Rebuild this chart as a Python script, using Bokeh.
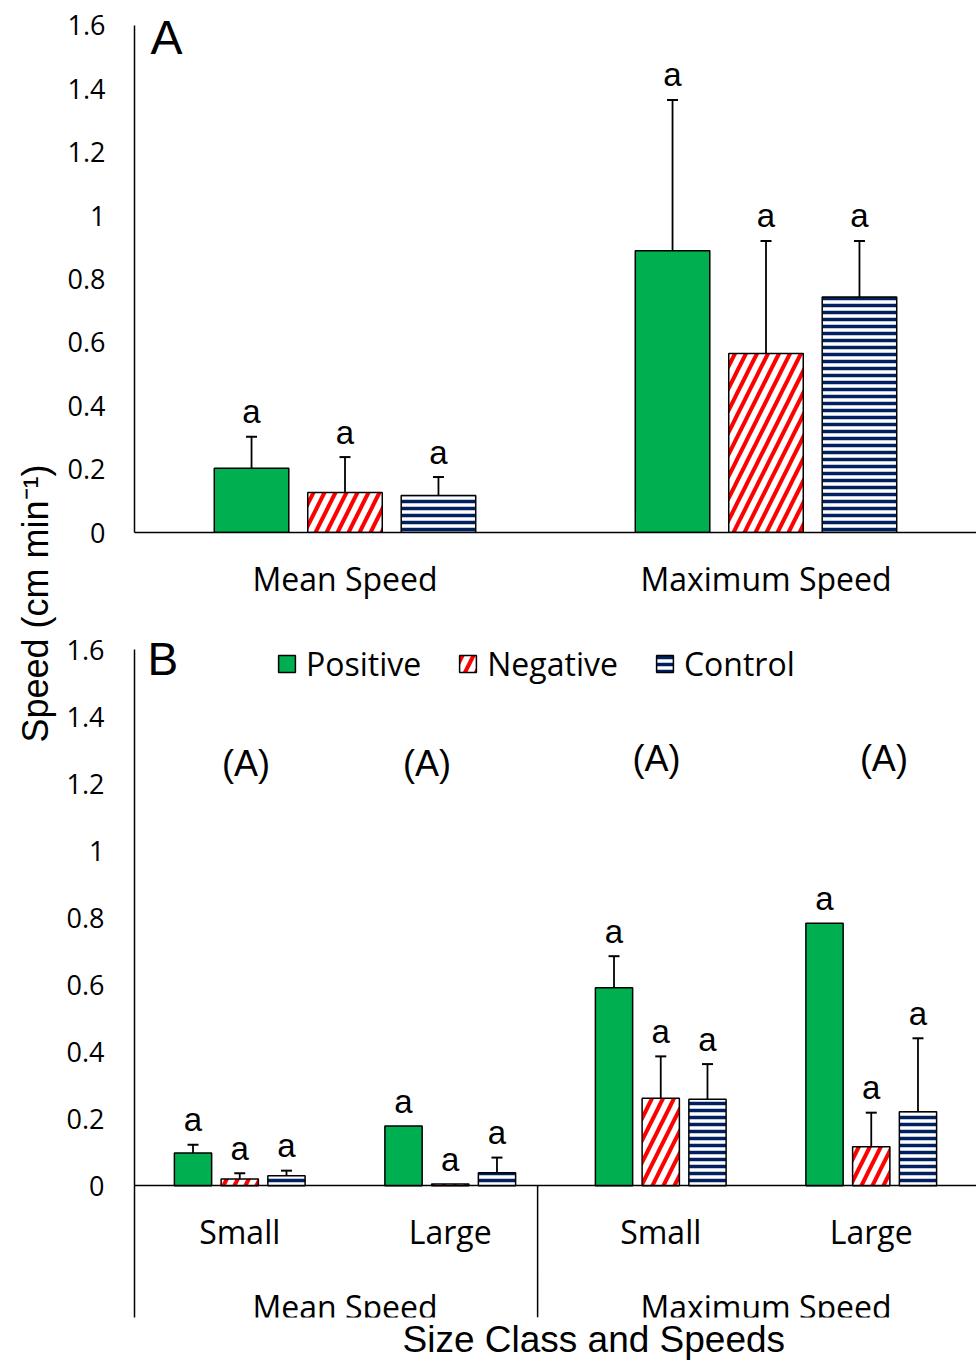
from bokeh.plotting import figure
from bokeh.models import (ColumnDataSource, FactorRange, Range1d, FixedTicker,
                          NumeralTickFormatter, Label, Title)
from bokeh.transform import dodge
from bokeh.layouts import row, column
from bokeh.embed import file_html
from bokeh.resources import INLINE
from bokeh.core.properties import value

# ---------------- data ----------------
series = ["Positive", "Negative", "Control"]

# Panel A
cats_A = ["Mean Speed", "Maximum Speed"]
pos_A = [0.203, 0.889]
neg_A = [0.126, 0.565]
ctl_A = [0.117, 0.743]
pos_A_err = [0.099, 0.476]
neg_A_err = [0.112, 0.355]
ctl_A_err = [0.058, 0.177]
sig_A = ["a", "a"]

# Panel B
groups_B = ["Mean Speed", "Maximum Speed"]
sizes_B = ["Small", "Large"]
pos_B = [0.098, 0.178, 0.591, 0.783]
neg_B = [0.020, 0.005, 0.261, 0.116]
ctl_B = [0.030, 0.039, 0.258, 0.221]
pos_B_err = [0.024, 0.0, 0.094, 0.0]
neg_B_err = [0.017, 0.0, 0.125, 0.102]
ctl_B_err = [0.015, 0.045, 0.105, 0.219]
sig_B = ["a", "a", "a", "a"]
group_sig_B = ["(A)", "(A)", "(A)", "(A)"]

y_ticks = [0, 0.2, 0.4, 0.6, 0.8, 1.0, 1.2, 1.4, 1.6]
y_title = "Speed (cm min\u207b\u00b9)"
x_title_B = "Size Class and Speeds"
panel_letters = ["A", "B"]

# ---------------- style / geometry ----------------
COLORS = {"Positive": "#00B050", "Negative": "#FF0000", "Control": "#002060"}
OFFSETS = {"Positive": -0.222, "Negative": 0.0, "Control": 0.222}
BAR_W = 0.177
CAL = "Open Sans"
ARIAL = "Liberation Sans"

LBL_W = 58
W = 918
FRAME_LEFT = 76
A_H, B_H = 623, 737
A_TOP, A_BOTTOM = 10, 91
A_PX_PER_UNIT = 316.9
A_FRAME_H = A_H - A_TOP - A_BOTTOM
A_YMAX = A_FRAME_H / A_PX_PER_UNIT
B_TOP, B_BOTTOM = 14, 42
B_PX_PER_UNIT = 335.6
B_YMAX = 1.636
B_FRAME_H = B_H - B_TOP - B_BOTTOM
B_Y0 = B_YMAX - B_FRAME_H / B_PX_PER_UNIT

# small nudges of the "(A)" marks (category units) and their heights
GSIG_DX = [0.03, -0.11, -0.02, 0.06]
GSIG_Y = [1.260, 1.260, 1.275, 1.275]
GROUP_LABEL_Y = -0.3605
SEP_OFFSET = 0.415


def style_axes(p, left_standoff):
    p.xgrid.visible = False
    p.ygrid.visible = False
    p.outline_line_color = None
    for ax in p.axis:
        ax.axis_line_color = "black"
        ax.axis_line_width = 1.5
        ax.major_tick_line_color = None
        ax.minor_tick_line_color = None
        ax.major_tick_out = 0
        ax.major_tick_in = 0
        ax.major_label_text_font = CAL
        ax.major_label_text_color = "black"
    p.yaxis.ticker = FixedTicker(ticks=y_ticks)
    p.yaxis.formatter = NumeralTickFormatter(format="0.[0]")
    p.yaxis.major_label_text_font_size = "27px"
    p.yaxis.major_label_standoff = left_standoff
    p.xaxis.major_label_text_font_size = "32px"


def draw_series(p, x, vals, errs, sigs, name, legend=False):
    top = [v + e for v, e in zip(vals, errs)]
    src = ColumnDataSource(dict(x=x, val=vals, top=top, sig=sigs))
    xd = dodge("x", OFFSETS[name], range=p.x_range)
    kw = dict(x=xd, top="val", width=BAR_W, source=src,
              line_color="black", line_width=1.5)
    if name == "Positive":
        kw.update(fill_color=COLORS[name])
    elif name == "Negative":
        kw.update(fill_color="white", hatch_pattern="/", hatch_color=COLORS[name],
                  hatch_scale=22, hatch_weight=4)
    else:
        kw.update(fill_color="white", hatch_pattern="-", hatch_color=COLORS[name],
                  hatch_scale=7, hatch_weight=3.5)
    if legend:
        kw["legend_label"] = name
    p.vbar(**kw)
    idx = [i for i, e in enumerate(errs) if e > 0]
    esrc = ColumnDataSource(dict(x=[x[i] for i in idx],
                                 val=[vals[i] for i in idx],
                                 top=[top[i] for i in idx]))
    exd = dodge("x", OFFSETS[name], range=p.x_range)
    p.segment(x0=exd, y0="val", x1=exd, y1="top", source=esrc,
              line_color="black", line_width=1.8)
    p.scatter(x=exd, y="top", marker="dash", size=11, line_color="black",
              line_width=2, source=esrc)
    p.text(x=xd, y="top", text="sig", source=src, text_font=value(ARIAL),
           text_font_size="33px", text_align="center", text_baseline="middle",
           y_offset=-25, text_color="black")


# ---------------- panel A ----------------
pA = figure(x_range=FactorRange(factors=cats_A, range_padding=0, factor_padding=0),
            y_range=Range1d(0, A_YMAX), width=W, height=A_H,
            output_backend="svg", toolbar_location=None,
            min_border_left=FRAME_LEFT, min_border_right=0,
            min_border_top=A_TOP, min_border_bottom=A_BOTTOM)
style_axes(pA, 29)
pA.yaxis.bounds = (0, 1.6)
pA.xaxis.major_label_standoff = 24
for name, vals, errs in zip(series, [pos_A, neg_A, ctl_A], [pos_A_err, neg_A_err, ctl_A_err]):
    draw_series(pA, cats_A, vals, errs, sig_A, name)
pA.add_layout(Label(x=16, y=A_FRAME_H - 26.5, x_units="screen", y_units="screen",
                    text=panel_letters[0], text_font=ARIAL, text_font_size="48px",
                    text_baseline="middle", text_color="black"))

# ---------------- panel B ----------------
factors_B = [(g, s) for g in groups_B for s in sizes_B]
pB = figure(x_range=FactorRange(factors=factors_B, range_padding=0, factor_padding=0,
                                group_padding=0, subgroup_padding=0),
            y_range=Range1d(B_Y0, B_YMAX), width=W, height=B_H,
            output_backend="svg", toolbar_location=None,
            min_border_left=FRAME_LEFT, min_border_right=0, min_border_top=B_TOP,
            min_border_bottom=B_BOTTOM)
style_axes(pB, 30)
pB.yaxis.bounds = (B_Y0, 1.6)
pB.xaxis.fixed_location = 0
pB.xaxis.major_label_standoff = 24
pB.xaxis.group_text_color = None
pB.xaxis.separator_line_color = None

for name, vals, errs in zip(series, [pos_B, neg_B, ctl_B], [pos_B_err, neg_B_err, ctl_B_err]):
    draw_series(pB, factors_B, vals, errs, sig_B, name, legend=True)

# group labels and separator below the axis
pB.text(x=groups_B, y=[GROUP_LABEL_Y] * len(groups_B), text=groups_B,
        text_font=value(CAL), text_font_size="32px", text_align="center",
        text_baseline="middle", text_color="black")
sep_x = [(groups_B[0], sizes_B[-1], SEP_OFFSET)]
pB.segment(x0=sep_x, y0=[0], x1=sep_x, y1=[B_Y0], line_color="black", line_width=1.5)

# (A) letters above each size class
gx = [(g, s, dx) for (g, s), dx in zip(factors_B, GSIG_DX)]
pB.text(x=gx, y=GSIG_Y, text=group_sig_B,
        text_font=value(ARIAL), text_font_size="36px", text_align="center",
        text_baseline="middle", text_color="black")

pB.add_layout(Label(x=13, y=B_FRAME_H - 22, x_units="screen", y_units="screen",
                    text=panel_letters[1], text_font=ARIAL, text_font_size="46px",
                    text_baseline="middle", text_color="black"))

lg = pB.legend[0]
lg.orientation = "horizontal"
lg.location = (142, B_FRAME_H - 49)
lg.border_line_color = None
lg.background_fill_alpha = 0
lg.label_text_font = CAL
lg.label_text_font_size = "32px"
lg.label_text_color = "black"
lg.glyph_width = 21
lg.glyph_height = 21
lg.label_standoff = 9
lg.spacing = 36
lg.padding = 0
lg.margin = 0

pB.add_layout(Title(text=x_title_B, align="left", offset=268, text_font=ARIAL,
                    text_font_size="37px", text_font_style="normal", standoff=0,
                    vertical_align="middle", text_color="black"), "below")

# ---------------- y title column ----------------
pL = figure(width=LBL_W, height=A_H + B_H, x_range=Range1d(0, 1), y_range=Range1d(0, 1),
            output_backend="svg", toolbar_location=None, min_border=0)
pL.axis.visible = False
pL.xgrid.visible = False
pL.ygrid.visible = False
pL.outline_line_color = None
pL.add_layout(Label(x=35, y=A_H + B_H - 603, x_units="screen", y_units="screen",
                    text=y_title, angle=90, angle_units="deg", text_align="center",
                    text_baseline="middle", text_font=ARIAL, text_font_size="36px",
                    text_color="black"))

layout = row(pL, column(pA, pB))
open("out.html", "w").write(file_html(layout, INLINE))
